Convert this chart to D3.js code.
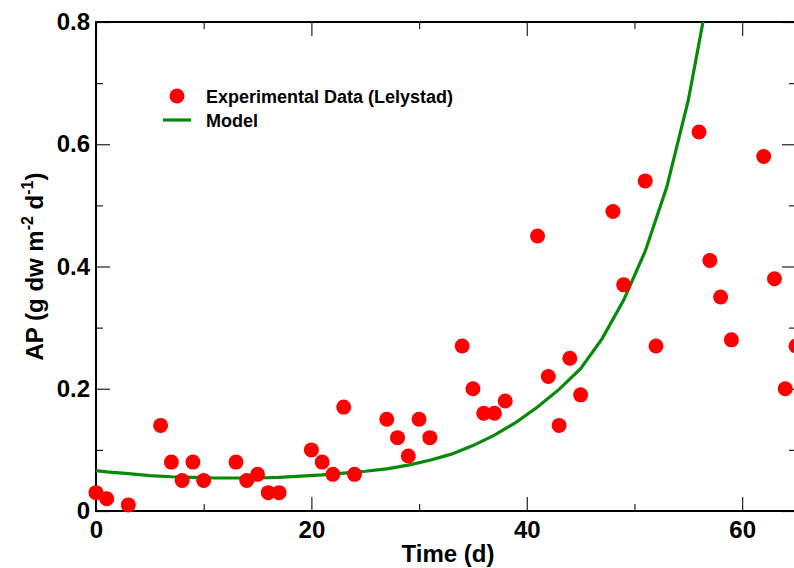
<!DOCTYPE html>
<html>
<head>
<meta charset="utf-8">
<script src="https://cdn.jsdelivr.net/npm/d3@7"></script>
<style>
  body { margin: 0; background: #fff; }
  svg { display: block; font-family: "Liberation Sans", Arial, sans-serif; font-weight: bold; }
</style>
</head>
<body>
<div id="chart"></div>
<script>
// experimental data (Lelystad)
var days = [0, 1, 3, 6, 7, 8, 9, 10, 13, 14, 15, 16, 17, 20, 21, 22, 23, 24, 27, 28, 29, 30, 31,
            34, 35, 36, 37, 38, 41, 42, 43, 44, 45, 48, 49, 51, 52, 56, 57, 58, 59, 62, 63, 64, 65];
var apValues = [0.03, 0.02, 0.01, 0.14, 0.08, 0.05, 0.08, 0.05, 0.08, 0.05, 0.06, 0.03, 0.03,
                0.10, 0.08, 0.06, 0.17, 0.06, 0.15, 0.12, 0.09, 0.15, 0.12,
                0.27, 0.20, 0.16, 0.16, 0.18, 0.45, 0.22, 0.14, 0.25, 0.19, 0.49, 0.37, 0.54, 0.27,
                0.62, 0.41, 0.35, 0.28, 0.58, 0.38, 0.20, 0.27];

// model curve
var modelDays = [0, 1, 3, 5, 7, 9, 11, 13, 15, 17, 19, 21, 23, 25, 27, 29, 31, 33, 35, 37, 39,
                 41, 43, 45, 47, 49, 51, 53, 55, 57];
var modelValues = [0.066, 0.064, 0.061, 0.058, 0.056, 0.055, 0.054, 0.054, 0.054, 0.055, 0.057,
                   0.059, 0.062, 0.065, 0.069, 0.075, 0.083, 0.093, 0.107, 0.124, 0.145,
                   0.170, 0.199, 0.233, 0.282, 0.345, 0.425, 0.530, 0.672, 0.86];

var xMajor = [0, 20, 40, 60];
var xMinor = [10, 30, 50];
var yMajor = [0, 0.2, 0.4, 0.6, 0.8];
var yMinor = [0.1, 0.3, 0.5, 0.7];

var width = 794, height = 568;
var plotLeft = 96, plotRight = 796, plotTop = 22, plotBottom = 511;

var svg = d3.select("#chart").append("svg")
    .attr("width", width)
    .attr("height", height);

var x = d3.scaleLinear().domain([0, 65]).range([plotLeft, plotRight]);
var y = d3.scaleLinear().domain([0, 0.8]).range([plotBottom, plotTop]);

svg.append("defs").append("clipPath").attr("id", "plotclip")
  .append("rect")
    .attr("x", plotLeft).attr("y", plotTop)
    .attr("width", plotRight - plotLeft).attr("height", plotBottom - plotTop);

function styleAxis(g) {
  g.select(".domain").remove();
  g.selectAll(".tick line").attr("stroke", "#222").attr("stroke-width", 1.2);
  g.selectAll("text").attr("fill", "#000").style("font-size", "24px").style("font-weight", "bold")
    .style("font-family", "'Liberation Sans', Arial, sans-serif");
}

// bottom
svg.append("g").attr("transform", "translate(0," + plotBottom + ")")
  .call(d3.axisBottom(x).tickValues(xMajor).tickSize(-14).tickPadding(10).tickFormat(d3.format("d")))
  .call(styleAxis);
svg.append("g").attr("transform", "translate(0," + plotBottom + ")")
  .call(d3.axisBottom(x).tickValues(xMinor).tickSize(-7).tickFormat(""))
  .call(styleAxis);
// top
svg.append("g").attr("transform", "translate(0," + plotTop + ")")
  .call(d3.axisTop(x).tickValues(xMajor).tickSize(-14).tickFormat(""))
  .call(styleAxis);
svg.append("g").attr("transform", "translate(0," + plotTop + ")")
  .call(d3.axisTop(x).tickValues(xMinor).tickSize(-7).tickFormat(""))
  .call(styleAxis);
// left
svg.append("g").attr("transform", "translate(" + plotLeft + ",0)")
  .call(d3.axisLeft(y).tickValues(yMajor).tickSize(-14).tickPadding(6)
    .tickFormat(function(d) { return d === 0 ? "0" : d3.format(".1f")(d); }))
  .call(styleAxis);
svg.append("g").attr("transform", "translate(" + plotLeft + ",0)")
  .call(d3.axisLeft(y).tickValues(yMinor).tickSize(-7).tickFormat(""))
  .call(styleAxis);
// right
svg.append("g").attr("transform", "translate(" + plotRight + ",0)")
  .call(d3.axisRight(y).tickValues(yMajor).tickSize(-14).tickFormat(""))
  .call(styleAxis);
svg.append("g").attr("transform", "translate(" + plotRight + ",0)")
  .call(d3.axisRight(y).tickValues(yMinor).tickSize(-7).tickFormat(""))
  .call(styleAxis);

// frame
svg.append("rect")
    .attr("x", plotLeft).attr("y", plotTop)
    .attr("width", plotRight - plotLeft).attr("height", plotBottom - plotTop)
    .attr("fill", "none").attr("stroke", "#000").attr("stroke-width", 2);

// model line
var line = d3.line()
    .x(function(d, i) { return x(modelDays[i]); })
    .y(function(d) { return y(d); });

svg.append("path")
    .datum(modelValues)
    .attr("clip-path", "url(#plotclip)")
    .attr("fill", "none")
    .attr("stroke", "#078a07")
    .attr("stroke-width", 3.2)
    .attr("d", line);

// data points
svg.selectAll("circle.pt")
    .data(apValues)
    .enter()
    .append("circle")
    .attr("class", "pt")
    .attr("cx", function(d, i) { return x(days[i]); })
    .attr("cy", function(d) { return y(d); })
    .attr("r", 7.5)
    .style("fill", "#ff0000");

// axis titles
svg.append("text")
    .attr("x", (plotLeft + plotRight) / 2 + 2)
    .attr("y", 562)
    .attr("text-anchor", "middle")
    .style("font-size", "24px")
    .text("Time (d)");

var yt = svg.append("text")
    .attr("transform", "translate(43," + ((plotTop + plotBottom) / 2) + ") rotate(-90)")
    .attr("text-anchor", "middle")
    .style("font-size", "24px");
yt.append("tspan").text("AP (g dw m");
yt.append("tspan").attr("dy", -10).style("font-size", "16px").text("-2");
yt.append("tspan").attr("dy", 10).text(" d");
yt.append("tspan").attr("dy", -10).style("font-size", "16px").text("-1");
yt.append("tspan").attr("dy", 10).text(")");

// legend
var legend = svg.append("g");
legend.append("circle")
    .attr("cx", 177).attr("cy", 96).attr("r", 7.5)
    .style("fill", "#ff0000");
legend.append("line")
    .attr("x1", 163).attr("x2", 191).attr("y1", 120).attr("y2", 120)
    .attr("stroke", "#078a07").attr("stroke-width", 3.2);
legend.append("text")
    .attr("x", 206).attr("y", 103)
    .style("font-size", "18px")
    .text("Experimental Data (Lelystad)");
legend.append("text")
    .attr("x", 206).attr("y", 127)
    .style("font-size", "18px")
    .text("Model");
</script>
</body>
</html>
